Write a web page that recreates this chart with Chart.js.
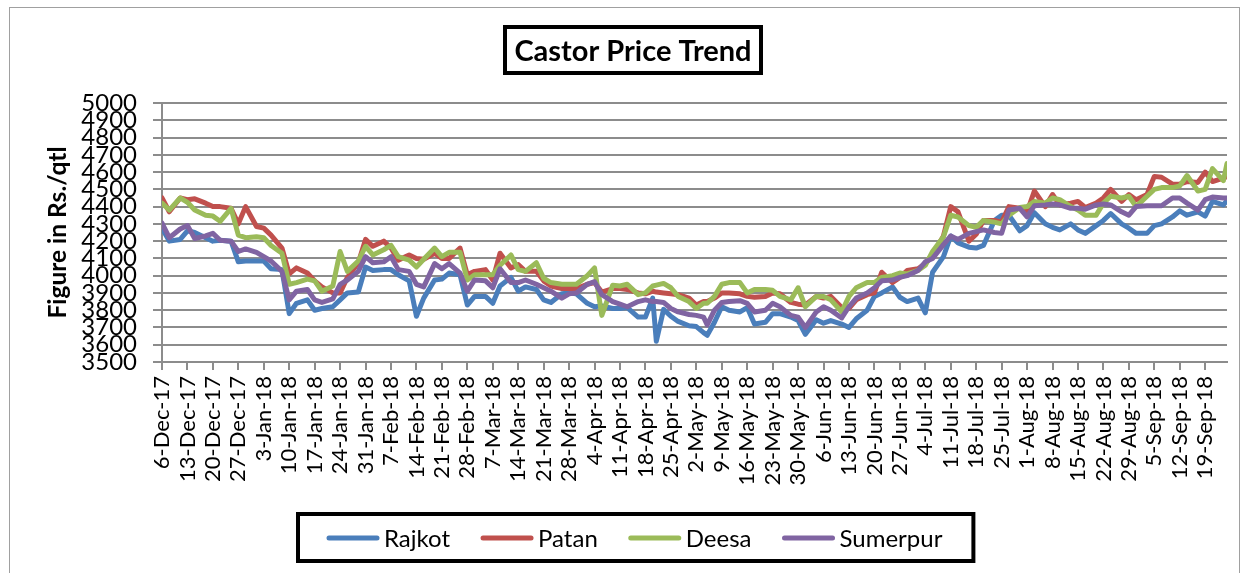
<!DOCTYPE html>
<html>
<head>
<meta charset="utf-8">
<title>Castor Price Trend</title>
<script src="https://cdn.jsdelivr.net/npm/chart.js@4.4.1/dist/chart.umd.min.js"></script>
<style>
html, body { margin: 0; padding: 0; background: #fff; }
#wrap { width: 1246px; height: 573px; }
</style>
</head>
<body>
<div id="wrap"><canvas id="chart-castor" width="1246" height="573"></canvas></div>
<script>
// ================= DATA =================
const chartTitle = 'Castor Price Trend';
const axisTitle = 'Figure in Rs./qtl';

// weekly tick labels (every 7 days from 6-Dec-17)
const tickLabels = [
  '6-Dec-17','13-Dec-17','20-Dec-17','27-Dec-17','3-Jan-18','10-Jan-18','17-Jan-18','24-Jan-18',
  '31-Jan-18','7-Feb-18','14-Feb-18','21-Feb-18','28-Feb-18','7-Mar-18','14-Mar-18','21-Mar-18',
  '28-Mar-18','4-Apr-18','11-Apr-18','18-Apr-18','25-Apr-18','2-May-18','9-May-18','16-May-18',
  '23-May-18','30-May-18','6-Jun-18','13-Jun-18','20-Jun-18','27-Jun-18','4-Jul-18','11-Jul-18',
  '18-Jul-18','25-Jul-18','1-Aug-18','8-Aug-18','15-Aug-18','22-Aug-18','29-Aug-18','5-Sep-18',
  '12-Sep-18','19-Sep-18'
];

const dates = [
  '2017-12-06','2017-12-08','2017-12-11','2017-12-13','2017-12-15','2017-12-18','2017-12-20','2017-12-22','2017-12-25','2017-12-27','2017-12-29',
  '2018-01-01','2018-01-03','2018-01-05','2018-01-08','2018-01-10','2018-01-12','2018-01-15','2018-01-17','2018-01-19','2018-01-22','2018-01-24','2018-01-26','2018-01-29','2018-01-31',
  '2018-02-02','2018-02-05','2018-02-07','2018-02-09','2018-02-12','2018-02-14','2018-02-16','2018-02-19','2018-02-21','2018-02-23','2018-02-26','2018-02-28',
  '2018-03-02','2018-03-05','2018-03-07','2018-03-09','2018-03-12','2018-03-14','2018-03-16','2018-03-19','2018-03-21','2018-03-23','2018-03-26','2018-03-28','2018-03-30',
  '2018-04-02','2018-04-04','2018-04-06','2018-04-09','2018-04-11','2018-04-13','2018-04-16','2018-04-18','2018-04-20','2018-04-21','2018-04-23','2018-04-25','2018-04-27','2018-04-30',
  '2018-05-02','2018-05-04','2018-05-05','2018-05-07','2018-05-09','2018-05-11','2018-05-14','2018-05-16','2018-05-18','2018-05-21','2018-05-23','2018-05-25','2018-05-28','2018-05-30',
  '2018-06-01','2018-06-04','2018-06-06','2018-06-08','2018-06-11','2018-06-13','2018-06-15','2018-06-18','2018-06-20','2018-06-22','2018-06-25','2018-06-27','2018-06-29',
  '2018-07-02','2018-07-04','2018-07-06','2018-07-09','2018-07-11','2018-07-13','2018-07-16','2018-07-18','2018-07-20','2018-07-23','2018-07-25','2018-07-27','2018-07-30',
  '2018-08-01','2018-08-03','2018-08-06','2018-08-08','2018-08-10','2018-08-13','2018-08-15','2018-08-17','2018-08-20','2018-08-22','2018-08-24','2018-08-27','2018-08-29','2018-08-31',
  '2018-09-03','2018-09-05','2018-09-07','2018-09-10','2018-09-12','2018-09-14','2018-09-17','2018-09-19','2018-09-21','2018-09-24','2018-09-25'
];

const rajkot = [
  4275,4200,4210,4260,4250,4220,4200,4205,4200,4080,4085,
  4085,4085,4040,4035,3780,3840,3860,3800,3810,3820,3860,3900,3905,4050,
  4030,4035,4035,4005,3970,3765,3870,3975,3980,4015,4005,3830,
  3880,3880,3840,3940,3990,3910,3935,3920,3860,3845,3895,3900,3895,
  3840,3820,3825,3810,3810,3815,3760,3760,3870,3620,3805,3765,3735,3710,
  3705,3670,3655,3730,3820,3800,3790,3815,3720,3730,3780,3780,3760,3740,
  3660,3745,3725,3740,3720,3700,3750,3800,3880,3900,3935,3875,3850,
  3870,3785,4020,4110,4230,4190,4165,4160,4175,4320,4350,4350,4260,
  4290,4365,4300,4280,4265,4300,4265,4245,4290,4320,4360,4300,4275,4245,
  4245,4290,4300,4340,4375,4350,4370,4345,4430,4410,4435
];

const patan = [
  4450,4370,4450,4440,4445,4420,4400,4400,4390,4300,4400,
  4285,4275,4235,4160,4010,4045,4015,3970,3935,3900,3900,3990,4075,4210,
  4170,4200,4160,4090,4120,4100,4095,4130,4100,4100,4160,4005,
  4025,4035,3975,4130,4045,4065,4025,4025,3970,3940,3925,3925,3925,
  3950,3960,3905,3925,3925,3920,3900,3895,3910,3905,3900,3895,3890,3870,
  3830,3850,3850,3870,3900,3900,3895,3880,3875,3880,3900,3895,3845,3835,
  3830,3880,3870,3880,3815,3810,3860,3890,3900,4020,3960,3990,4030,
  4040,4070,4120,4230,4400,4370,4200,4240,4320,4320,4310,4400,4390,
  4370,4490,4400,4470,4410,4420,4430,4395,4420,4450,4500,4430,4470,4440,
  4470,4575,4570,4530,4530,4545,4540,4600,4545,4565,4575
];

const deesa = [
  4420,4380,4450,4425,4380,4350,4345,4315,4390,4235,4220,
  4225,4220,4175,4130,3950,3960,3980,3970,3910,3940,4140,4025,4085,4170,
  4120,4150,4175,4110,4090,4050,4095,4160,4110,4135,4135,3975,
  4005,4005,4005,4060,4120,4035,4025,4075,3985,3960,3950,3950,3950,
  4000,4045,3770,3945,3940,3950,3890,3900,3940,3945,3955,3930,3880,3850,
  3810,3840,3840,3880,3950,3960,3960,3900,3920,3920,3915,3880,3860,3930,
  3820,3880,3880,3860,3790,3880,3930,3960,3960,3990,4000,4015,4010,
  4030,4060,4140,4225,4350,4340,4290,4280,4320,4310,4300,4350,4395,
  4400,4430,4420,4450,4440,4400,4380,4350,4350,4420,4460,4450,4460,4400,
  4460,4500,4510,4510,4520,4580,4490,4500,4620,4550,4650
];

const sumerpur = [
  4305,4220,4270,4290,4215,4230,4245,4205,4200,4140,4155,
  4135,4110,4085,4025,3860,3910,3920,3860,3845,3865,3950,3975,4025,4110,
  4075,4080,4110,4035,4025,3950,3935,4070,4040,4070,4015,3910,
  3975,3970,3930,4040,3960,3960,3975,3950,3930,3910,3870,3895,3900,
  3950,3965,3890,3850,3835,3820,3850,3860,3850,3850,3845,3810,3790,3775,
  3770,3760,3715,3800,3845,3850,3855,3840,3790,3800,3840,3820,3770,3760,
  3700,3790,3820,3800,3755,3820,3870,3900,3930,3970,3975,3990,4000,
  4030,4080,4100,4180,4230,4210,4245,4255,4265,4250,4245,4380,4390,
  4340,4405,4410,4415,4410,4390,4390,4385,4410,4415,4410,4370,4350,4400,
  4405,4405,4405,4450,4450,4420,4380,4440,4455,4450,4450
];

// ================= HELPERS =================
const START = Date.UTC(2017, 11, 6);
function dayIndex(s) {
  const [y, m, d] = s.split('-').map(Number);
  return Math.round((Date.UTC(y, m - 1, d) - START) / 86400000);
}
function toPoints(values) {
  return dates.map((d, i) => ({ x: dayIndex(d), y: values[i] }));
}

const FONT = 'Lato';
const GRID = '#8c8c8c';

// title box, legend box and outer frame
const frame = {
  id: 'frame',
  afterDraw(chart) {
    const ctx = chart.ctx;
    ctx.save();
    ctx.strokeStyle = '#a0a0a0';
    ctx.lineWidth = 1;
    ctx.strokeRect(9.5, 7.5, 1230, 600);

    // title
    ctx.strokeStyle = '#000';
    ctx.lineWidth = 4;
    ctx.strokeRect(505, 27, 256, 46);
    ctx.fillStyle = '#000';
    ctx.font = 'bold 29px ' + FONT;
    ctx.textAlign = 'center';
    ctx.textBaseline = 'alphabetic';
    ctx.fillText(chartTitle, 633, 61);

    // legend
    ctx.font = '24px ' + FONT;
    ctx.textAlign = 'left';
    ctx.textBaseline = 'middle';
    let x = 327;
    const y = 538;
    chart.data.datasets.forEach(ds => {
      ctx.strokeStyle = ds.borderColor;
      ctx.lineWidth = 5;
      ctx.lineCap = 'round';
      ctx.beginPath();
      ctx.moveTo(x + 2, y);
      ctx.lineTo(x + 50, y);
      ctx.stroke();
      x += 57;
      ctx.fillStyle = '#000';
      ctx.fillText(ds.label, x, y + 1);
      x += ctx.measureText(ds.label).width + 31;
    });
    ctx.strokeStyle = '#000';
    ctx.lineWidth = 4;
    ctx.lineCap = 'butt';
    ctx.strokeRect(298, 514, x - 298, 47);
    ctx.restore();
  }
};

function series(label, values, color, order) {
  return {
    label: label,
    data: toPoints(values),
    borderColor: color,
    backgroundColor: color,
    borderWidth: 5,
    borderJoinStyle: 'round',
    borderCapStyle: 'round',
    pointRadius: 0,
    tension: 0,
    order: order
  };
}

new Chart(document.getElementById('chart-castor').getContext('2d'), {
  type: 'line',
  data: {
    datasets: [
      series('Rajkot', rajkot, '#4a7ebb', 4),
      series('Patan', patan, '#c0504d', 3),
      series('Deesa', deesa, '#9bbb59', 2),
      series('Sumerpur', sumerpur, '#8064a2', 1)
    ]
  },
  options: {
    responsive: false,
    animation: false,
    devicePixelRatio: 1,
    layout: { padding: { top: 103, left: 0, right: 19, bottom: 81 } },
    plugins: {
      legend: { display: false },
      title: { display: false },
      tooltip: { enabled: false }
    },
    scales: {
      x: {
        type: 'linear',
        min: 0,
        max: 293,
        afterFit: s => { s.height = 130; },
        ticks: {
          stepSize: 7,
          includeBounds: false,
          autoSkip: false,
          maxRotation: 90,
          minRotation: 90,
          padding: 6,
          color: '#000',
          font: { family: FONT, size: 22 },
          callback: v => tickLabels[v / 7] || ''
        },
        grid: { drawOnChartArea: false, drawTicks: true, tickLength: 8, color: GRID, lineWidth: 2 },
        border: { color: GRID, width: 2 }
      },
      y: {
        min: 3500,
        max: 5000,
        afterFit: s => { s.width = 162; },
        ticks: {
          stepSize: 100,
          autoSkip: false,
          padding: 16,
          color: '#000',
          font: { family: FONT, size: 24 },
          callback: v => String(v)
        },
        grid: { color: GRID, lineWidth: 2, tickLength: 9 },
        border: { color: GRID, width: 2 },
        title: {
          display: true,
          text: axisTitle,
          color: '#000',
          font: { family: FONT, size: 24.5, weight: 'bold' },
          padding: { top: 43, bottom: 0 }
        }
      }
    }
  },
  plugins: [frame]
});
</script>
</body>
</html>
